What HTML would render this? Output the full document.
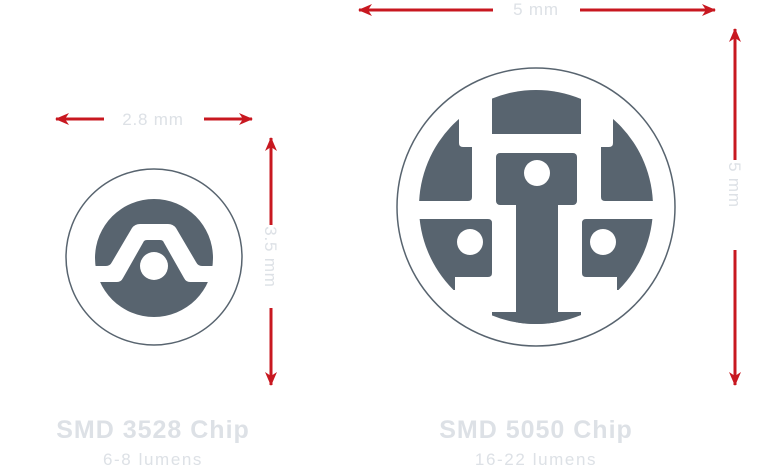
<!DOCTYPE html>
<html><head><style>body{margin:0;background:#fff}svg{display:block}</style></head><body>
<svg width="768" height="468" viewBox="0 0 768 468" xmlns="http://www.w3.org/2000/svg">
<defs>
<marker id="ah" viewBox="0 0 14 12" refX="13" refY="6" markerWidth="14" markerHeight="12" markerUnits="userSpaceOnUse" orient="auto-start-reverse"><path d="M0,0 L14,6 L0,12 L4,6 Z" fill="#c81820"/></marker>
<clipPath id="cb"><circle cx="536" cy="207" r="117"/></clipPath>
</defs>
<g stroke="#c81820" stroke-width="3" fill="none">
<line x1="104" y1="119" x2="56" y2="119" marker-end="url(#ah)"/>
<line x1="204" y1="119" x2="252" y2="119" marker-end="url(#ah)"/>
<line x1="271" y1="225" x2="271" y2="138" marker-end="url(#ah)"/>
<line x1="271" y1="308" x2="271" y2="385" marker-end="url(#ah)"/>
<line x1="493" y1="10" x2="359" y2="10" marker-end="url(#ah)"/>
<line x1="580" y1="10" x2="715" y2="10" marker-end="url(#ah)"/>
<line x1="735" y1="160" x2="735" y2="29" marker-end="url(#ah)"/>
<line x1="735" y1="250" x2="735" y2="385" marker-end="url(#ah)"/>
</g>
<g font-family="Liberation Sans, sans-serif" fill="#dde1e6" font-size="17" text-anchor="middle" letter-spacing="0.8">
<text x="153" y="125">2.8 mm</text>
<text x="536" y="15">5 mm</text>
<text transform="translate(265,257) rotate(90)">3.5 mm</text>
<text transform="translate(729,185) rotate(90)">5 mm</text>
<text x="153" y="438" font-size="25" font-weight="bold" letter-spacing="1">SMD 3528 Chip</text>
<text x="153" y="465" font-size="17" letter-spacing="1.6">6-8 lumens</text>
<text x="536" y="438" font-size="25" font-weight="bold" letter-spacing="1">SMD 5050 Chip</text>
<text x="536" y="465" font-size="17" letter-spacing="1.6">16-22 lumens</text>
</g>
<!-- small chip -->
<circle cx="154" cy="257" r="88" fill="none" stroke="#58646f" stroke-width="1.5"/>
<circle cx="154" cy="258" r="59" fill="#58646f"/>
<path d="M88,266 L106,266 Q110,266 112,262 L132,228 Q135,224 140,224 L168,224 Q173,224 176,228 L196,262 Q198,266 202,266 L222,266 L222,282 L190,282 Q186,282 184,278 L163,241 Q162,240 160,240 L147,240 Q145,240 144,241 L123,278 Q121,282 117,282 L88,282 Z" fill="#fff"/>
<circle cx="154" cy="266" r="14" fill="#fff"/>
<!-- big chip -->
<circle cx="536" cy="207" r="139" fill="none" stroke="#58646f" stroke-width="1.5"/>
<g clip-path="url(#cb)" fill="#58646f">
<rect x="492" y="80" width="89" height="54"/>
<path d="M400,80 L459,80 L459,143 Q459,147 463,147 L472,147 L472,197 Q472,201 468,201 L400,201 Z"/>
<path d="M672,80 L613,80 L613,143 Q613,147 609,147 L601,147 L601,197 Q601,201 605,201 L672,201 Z"/>
<rect x="496" y="153" width="81" height="52" rx="4"/>
<rect x="516" y="195" width="42" height="130"/>
<rect x="492" y="312" width="89" height="20"/>
<path d="M400,219 L488,219 Q492,219 492,223 L492,273 Q492,277 488,277 L455,277 L455,290 L400,290 Z"/>
<path d="M672,219 L586,219 Q582,219 582,223 L582,273 Q582,277 586,277 L617,277 L617,290 L672,290 Z"/>
</g>
<circle cx="537" cy="173" r="13" fill="#fff"/>
<circle cx="470" cy="242" r="13" fill="#fff"/>
<circle cx="603" cy="242" r="13" fill="#fff"/>
</svg>
</body></html>
